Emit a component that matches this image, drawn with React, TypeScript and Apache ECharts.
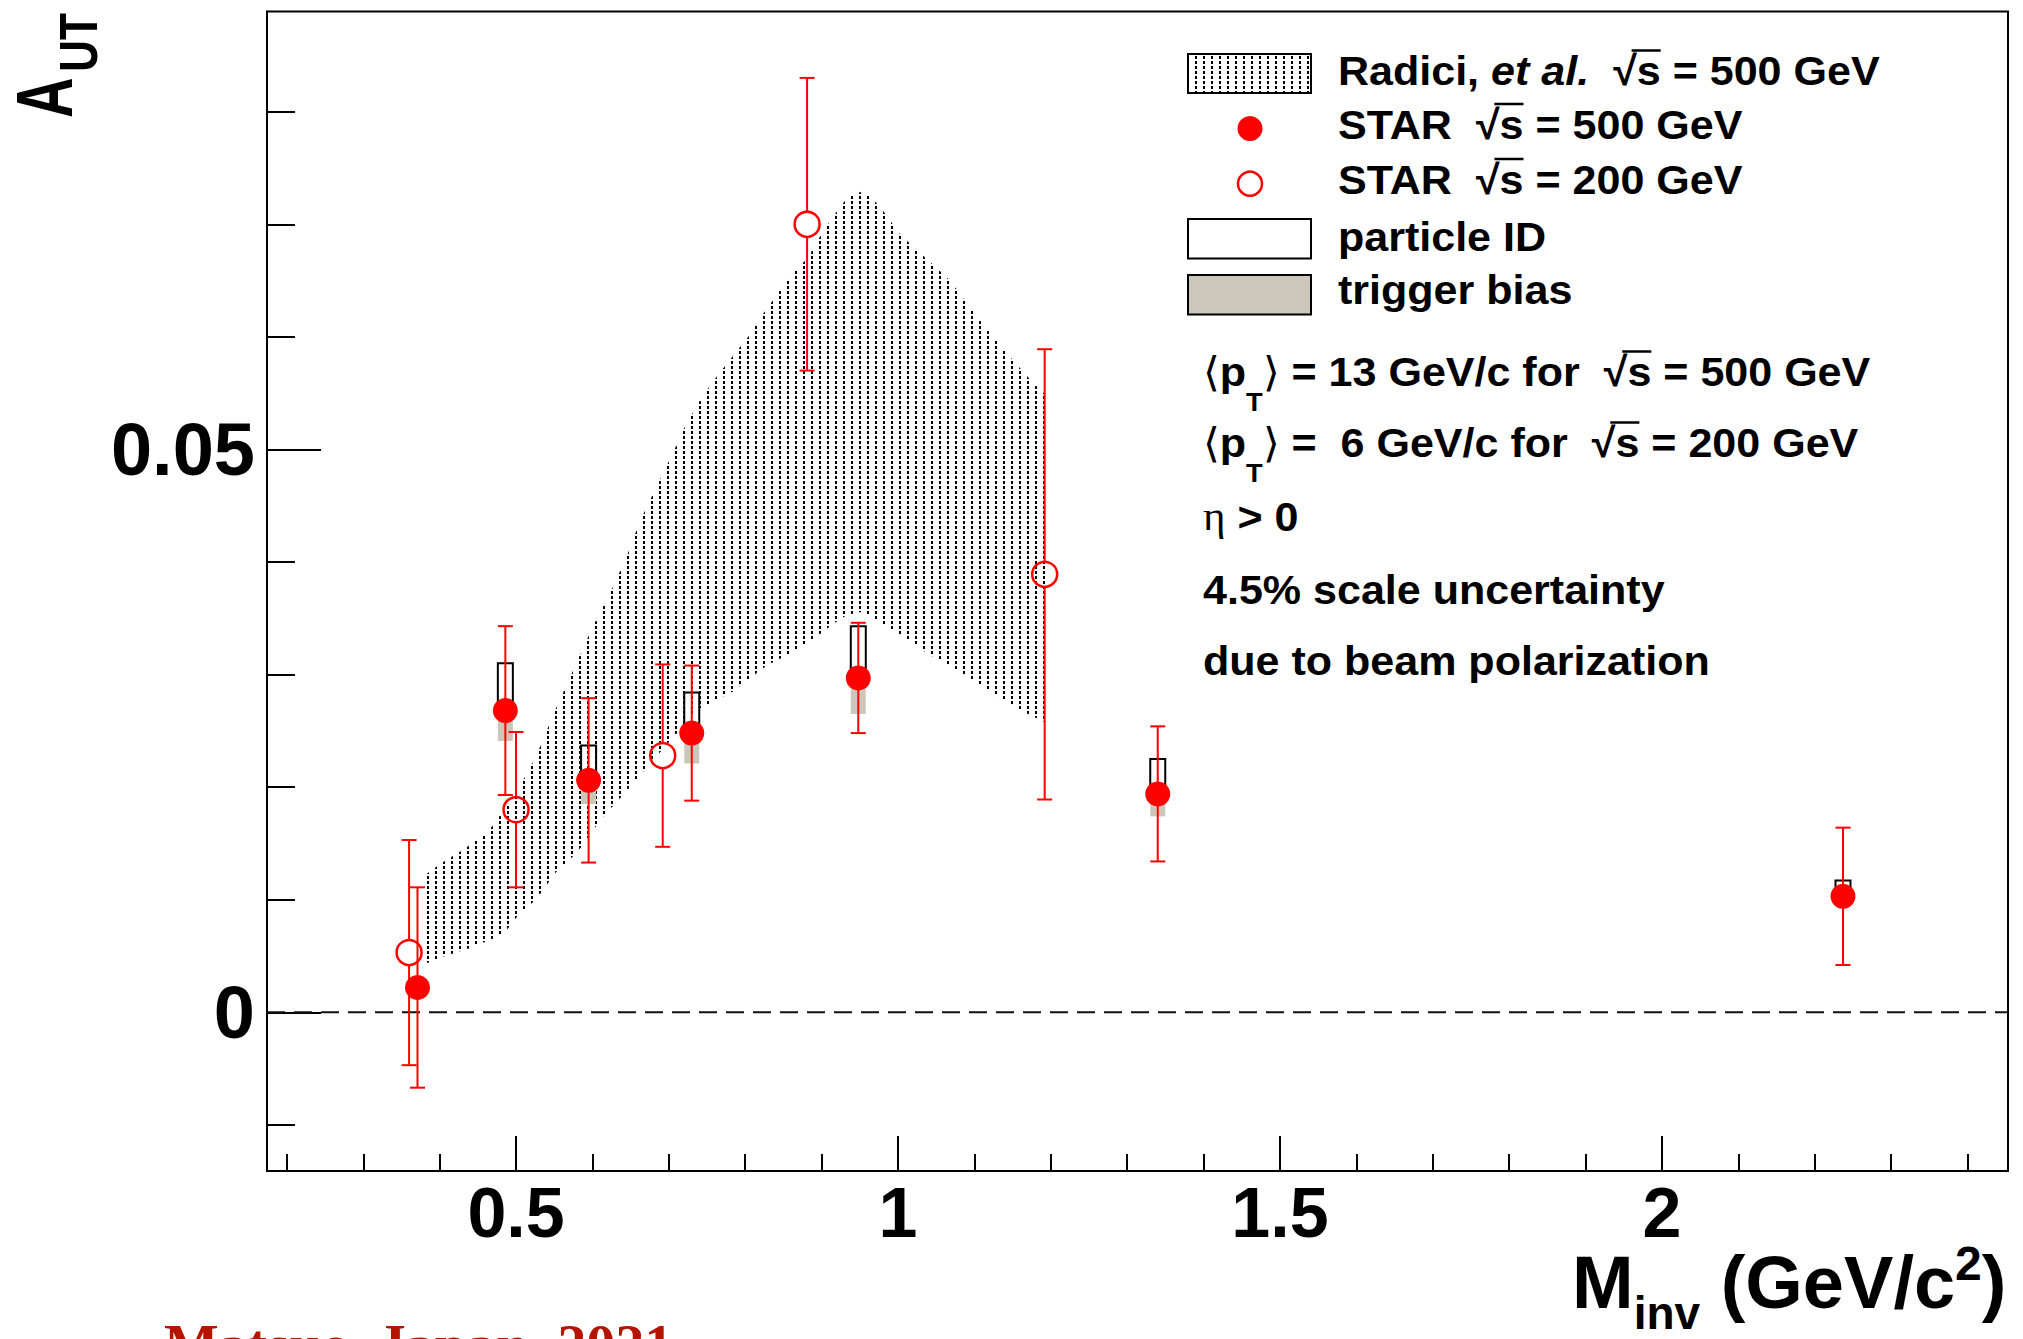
import React, { useEffect, useRef } from 'react';
import * as echarts from 'echarts';

// ---------------- data ----------------
const X_MIN = 0.174;
const X_MAX = 2.453;
const Y_MIN = -0.0141;
const Y_MAX = 0.0889;

const X_MAJOR = [0.5, 1, 1.5, 2];
const X_MINOR = [0.2, 0.3, 0.4, 0.6, 0.7, 0.8, 0.9, 1.1, 1.2, 1.3, 1.4, 1.6, 1.7, 1.8, 1.9, 2.1, 2.2, 2.3, 2.4];
const Y_MAJOR = [0, 0.05];
const Y_MINOR = [-0.01, 0.01, 0.02, 0.03, 0.04, 0.06, 0.07, 0.08];

// Radici et al. band (upper and lower edges)
const BAND_UP_X = [0.377, 0.401, 0.434, 0.464, 0.499, 0.526, 0.553, 0.575, 0.584, 0.603, 0.623, 0.645, 0.662, 0.684, 0.704, 0.723, 0.743, 0.763, 0.784, 0.804, 0.824, 0.843, 0.863, 0.883, 0.894, 0.913, 0.933, 0.955, 0.976, 1.003, 1.025, 1.046, 1.068, 1.09, 1.116, 1.147, 1.177, 1.197];
const BAND_UP_Y = [0.012, 0.0132, 0.0146, 0.0161, 0.0193, 0.0227, 0.0271, 0.0304, 0.0318, 0.0346, 0.0372, 0.0405, 0.0436, 0.0467, 0.0495, 0.0523, 0.0546, 0.0565, 0.0583, 0.06, 0.0621, 0.0639, 0.0657, 0.0671, 0.0685, 0.0705, 0.0723, 0.073, 0.0716, 0.0691, 0.0677, 0.0664, 0.065, 0.063, 0.0607, 0.0582, 0.0559, 0.0546];
const BAND_LO_X = [0.377, 0.407, 0.44, 0.483, 0.505, 0.526, 0.553, 0.58, 0.613, 0.64, 0.667, 0.7, 0.741, 0.784, 0.828, 0.863, 0.894, 0.915, 0.933, 0.955, 0.976, 1.003, 1.038, 1.072, 1.112, 1.155, 1.197];
const BAND_LO_Y = [0.0042, 0.005, 0.0057, 0.0069, 0.0088, 0.01, 0.0125, 0.0142, 0.0173, 0.0193, 0.0214, 0.024, 0.027, 0.0285, 0.0308, 0.032, 0.0334, 0.0345, 0.0353, 0.0356, 0.0347, 0.0335, 0.0319, 0.0306, 0.0288, 0.027, 0.0256];

// STAR sqrt(s) = 500 GeV (filled)
const S500_X = [0.371, 0.486, 0.595, 0.73, 0.948, 1.34, 2.237];
const S500_Y = [0.0022, 0.0268, 0.0206, 0.0248, 0.0297, 0.0194, 0.0103];
const S500_ERR = [0.0089, 0.0075, 0.0073, 0.006, 0.0049, 0.006, 0.0061];
const S500_PID = [0, 0.0042, 0.0031, 0.0036, 0.0046, 0.0031, 0.0014];
const S500_TRIG = [0, 0.0027, 0.0021, 0.0027, 0.0032, 0.002, 0.0008];

// STAR sqrt(s) = 200 GeV (open)
const S200_X = [0.36, 0.5, 0.692, 0.881, 1.192];
const S200_Y = [0.0053, 0.018, 0.0228, 0.07, 0.0389];
const S200_ERR = [0.01, 0.0069, 0.0081, 0.013, 0.02];

// ---------------- style ----------------
const W = 2023;
const H = 1339;
const SANS = '"Liberation Sans", Arial, Helvetica, sans-serif';
const SERIF = '"Liberation Serif", "Times New Roman", serif';
const RED = '#ff0000';
const GRAY = '#cdc7bb';
const CAP = 7.5;
const BOX_HALF = 7.5;
const R_OPEN = 12.5;

let measureCtx: CanvasRenderingContext2D | null = null;
function measure(t: string, size: number, weight: string, fstyle: string, fam: string) {
  if (!measureCtx) measureCtx = document.createElement('canvas').getContext('2d');
  const c = measureCtx!;
  c.font = `${fstyle} ${weight} ${size}px ${fam}`;
  return c.measureText(t).width;
}

type Seg = { t: string; size?: number; weight?: string; style?: string; family?: string; dy?: number; over?: boolean };

function textStyle(t: string, size: number, weight: string, fstyle: string, fam: string, fill = '#000') {
  return {
    text: t,
    fontSize: size,
    fontWeight: weight,
    fontStyle: fstyle,
    fontFamily: fam,
    fill,
    align: 'left',
    verticalAlign: 'middle',
    textAlign: 'left',
    textVerticalAlign: 'middle',
  };
}

function textRow(x0: number, yc: number, segs: Seg[], base: number, sx = 1) {
  const children: any[] = [];
  let x = 0;
  for (const s of segs) {
    const size = s.size ?? base;
    const weight = s.weight ?? 'bold';
    const fstyle = s.style ?? 'normal';
    const fam = s.family ?? SANS;
    const w = measure(s.t, size, weight, fstyle, fam);
    children.push({ type: 'text', x, y: s.dy ?? 0, silent: true, style: textStyle(s.t, size, weight, fstyle, fam) });
    if (s.over) {
      children.push({
        type: 'line',
        silent: true,
        shape: { x1: x - 0.12 * size, y1: -0.5 * size, x2: x + w, y2: -0.5 * size },
        style: { stroke: '#000', lineWidth: 2.5 },
      });
    }
    x += w;
  }
  return { type: 'group', x: x0, y: yc, scaleX: sx, children };
}

function makePattern() {
  const pc = document.createElement('canvas');
  pc.width = 8;
  pc.height = 5;
  const g = pc.getContext('2d')!;
  g.fillStyle = '#000';
  g.fillRect(3, 1, 2, 3);
  return { image: pc.toDataURL(), repeat: 'repeat', imageWidth: 8, imageHeight: 5 } as any;
}

export default function App() {
  const ref = useRef<HTMLDivElement>(null);

  useEffect(() => {
    const el = ref.current!;
    const chart = echarts.init(el, null, { renderer: 'svg', width: W, height: H });
    const pattern = makePattern();

    const LEG = 41;
    const LSX = 1.05;
    const legendX = 1338;
    const noteX = 1203;
    const sqrtSegs = (rest: string): Seg[] => [{ t: '√' }, { t: 's', over: true }, { t: rest }];

    const graphics: any[] = [
      // legend swatches
      { type: 'rect', silent: true, shape: { x: 1188, y: 54, width: 123, height: 39 }, style: { fill: pattern, stroke: '#000', lineWidth: 2 } },
      { type: 'circle', silent: true, shape: { cx: 1250, cy: 128.6, r: 12.5 }, style: { fill: RED } },
      { type: 'circle', silent: true, shape: { cx: 1250, cy: 183.7, r: 12 }, style: { fill: 'none', stroke: RED, lineWidth: 2.5 } },
      { type: 'rect', silent: true, shape: { x: 1188, y: 219, width: 123, height: 39.5 }, style: { fill: '#fff', stroke: '#000', lineWidth: 2 } },
      { type: 'rect', silent: true, shape: { x: 1188, y: 275, width: 123, height: 39.5 }, style: { fill: GRAY, stroke: '#000', lineWidth: 2 } },
      // legend texts
      textRow(legendX, 71, [{ t: 'Radici, ' }, { t: 'et al.', style: 'italic' }, { t: '  ' }, ...sqrtSegs(' = 500 GeV')], LEG, LSX),
      textRow(legendX, 124.5, [{ t: 'STAR  ' }, ...sqrtSegs(' = 500 GeV')], LEG, LSX),
      textRow(legendX, 179.5, [{ t: 'STAR  ' }, ...sqrtSegs(' = 200 GeV')], LEG, LSX),
      textRow(legendX, 236.5, [{ t: 'particle ID' }], LEG, LSX),
      textRow(legendX, 289.5, [{ t: 'trigger bias' }], LEG, LSX),
      // notes
      textRow(noteX, 372, [{ t: '⟨', weight: 'normal' }, { t: 'p' }, { t: 'T', size: 26, dy: 30 }, { t: '⟩', weight: 'normal' }, { t: ' = 13 GeV/c for  ' }, ...sqrtSegs(' = 500 GeV')], LEG, LSX),
      textRow(noteX, 443, [{ t: '⟨', weight: 'normal' }, { t: 'p' }, { t: 'T', size: 26, dy: 30 }, { t: '⟩', weight: 'normal' }, { t: ' =  6 GeV/c for  ' }, ...sqrtSegs(' = 200 GeV')], LEG, LSX),
      textRow(noteX, 516.5, [{ t: 'η', weight: 'normal', family: SERIF }, { t: ' > 0' }], LEG, LSX),
      textRow(noteX, 590, [{ t: '4.5% scale uncertainty' }], LEG, LSX),
      textRow(noteX, 661, [{ t: 'due to beam polarization' }], LEG, LSX),
      // x-axis title
      textRow(1572, 1282, [{ t: 'M' }, { t: 'inv', size: 46, dy: 31 }, { t: ' (GeV/c' }, { t: '2', size: 48, dy: -18.5 }, { t: ')' }], 74, 1),
      // y-axis title
      {
        type: 'group',
        x: 44.5,
        y: 118,
        rotation: Math.PI / 2,
        children: [
          { type: 'text', x: 0, y: 0, scaleX: 0.7, silent: true, style: textStyle('A', 80, 'bold', 'normal', SANS) },
          { type: 'text', x: 46, y: 33, scaleX: 0.82, silent: true, style: textStyle('UT', 54, 'bold', 'normal', SANS) },
        ],
      },
      // footer (cut off at the bottom edge, as in the reference)
      { type: 'text', x: 164, y: 1344, silent: true, style: textStyle('Matsue, Japan, 2021', 58, 'bold', 'normal', SERIF, '#b41400') },
    ];

    const axisBase = {
      type: 'value',
      splitLine: { show: false },
      minorTick: { show: false },
    };

    const option: any = {
      animation: false,
      backgroundColor: '#fff',
      grid: {
        left: 267,
        right: W - 2008,
        top: 11.5,
        bottom: H - 1171,
        show: true,
        borderColor: '#000',
        borderWidth: 2,
        backgroundColor: 'transparent',
        containLabel: false,
        outerBoundsMode: 'none',
      },
      xAxis: [
        {
          ...axisBase,
          min: X_MIN,
          max: X_MAX,
          position: 'bottom',
          axisLine: { show: true, onZero: false, lineStyle: { color: '#000', width: 2 } },
          axisTick: { show: true, inside: true, length: 35, customValues: X_MAJOR, lineStyle: { color: '#000', width: 2 } },
          axisLabel: {
            show: true,
            customValues: X_MAJOR,
            formatter: (v: number) => String(v),
            margin: 7,
            color: '#000',
            fontSize: 70,
            fontWeight: 'bold',
            fontFamily: SANS,
          },
        },
        {
          ...axisBase,
          min: X_MIN,
          max: X_MAX,
          position: 'bottom',
          axisLine: { show: false, onZero: false },
          axisTick: { show: true, inside: true, length: 17, customValues: X_MINOR, lineStyle: { color: '#000', width: 2 } },
          axisLabel: { show: false },
        },
      ],
      yAxis: [
        {
          ...axisBase,
          min: Y_MIN,
          max: Y_MAX,
          position: 'left',
          axisLine: { show: true, onZero: false, lineStyle: { color: '#000', width: 2 } },
          axisTick: { show: true, inside: true, length: 54, customValues: Y_MAJOR, lineStyle: { color: '#000', width: 2 } },
          axisLabel: {
            show: true,
            customValues: Y_MAJOR,
            formatter: (v: number) => String(v),
            margin: 12,
            color: '#000',
            fontSize: 74,
            fontWeight: 'bold',
            fontFamily: SANS,
          },
        },
        {
          ...axisBase,
          min: Y_MIN,
          max: Y_MAX,
          position: 'left',
          axisLine: { show: false, onZero: false },
          axisTick: { show: true, inside: true, length: 28, customValues: Y_MINOR, lineStyle: { color: '#000', width: 2 } },
          axisLabel: { show: false },
        },
      ],
      graphic: graphics,
      series: [
        {
          name: 'zero',
          type: 'line',
          xAxisIndex: 0,
          yAxisIndex: 0,
          data: [[X_MIN, 0], [X_MAX, 0]],
          showSymbol: false,
          silent: true,
          z: 1,
          lineStyle: { color: '#111', width: 2, type: [18, 9] },
        },
        {
          name: 'Radici et al.',
          type: 'custom',
          xAxisIndex: 0,
          yAxisIndex: 0,
          silent: true,
          z: 2,
          encode: { x: 0, y: 1 },
          data: [[BAND_UP_X[0], BAND_UP_Y[0]]],
          renderItem: (_p: any, api: any) => {
            const pts: number[][] = [];
            for (let i = 0; i < BAND_UP_X.length; i++) pts.push(api.coord([BAND_UP_X[i], BAND_UP_Y[i]]));
            for (let i = BAND_LO_X.length - 1; i >= 0; i--) pts.push(api.coord([BAND_LO_X[i], BAND_LO_Y[i]]));
            return { type: 'polygon', shape: { points: pts }, style: { fill: pattern, stroke: 'none' } };
          },
        },
        {
          name: 'systematics',
          type: 'custom',
          xAxisIndex: 0,
          yAxisIndex: 0,
          silent: true,
          z: 3,
          encode: { x: 0, y: 1 },
          data: S500_X.map((x, i) => [x, S500_Y[i], S500_PID[i], S500_TRIG[i]]),
          renderItem: (_p: any, api: any) => {
            const x = api.value(0);
            const y = api.value(1);
            const pid = api.value(2);
            const trig = api.value(3);
            const c = api.coord([x, y]);
            const top = api.coord([x, y + pid]);
            const bot = api.coord([x, y - trig]);
            const ch: any[] = [];
            if (trig > 0) ch.push({ type: 'rect', shape: { x: c[0] - BOX_HALF, y: c[1], width: 2 * BOX_HALF, height: bot[1] - c[1] }, style: { fill: GRAY } });
            if (pid > 0) ch.push({ type: 'rect', shape: { x: c[0] - BOX_HALF, y: top[1], width: 2 * BOX_HALF, height: c[1] - top[1] }, style: { fill: 'none', stroke: '#000', lineWidth: 2 } });
            return { type: 'group', children: ch };
          },
        },
        ...[
          { name: 'err500', xs: S500_X, ys: S500_Y, es: S500_ERR, open: false },
          { name: 'err200', xs: S200_X, ys: S200_Y, es: S200_ERR, open: true },
        ].map((d) => ({
          name: d.name,
          type: 'custom',
          xAxisIndex: 0,
          yAxisIndex: 0,
          silent: true,
          z: 4,
          encode: { x: 0, y: 1 },
          data: d.xs.map((x, i) => [x, d.ys[i], d.es[i]]),
          renderItem: (_p: any, api: any) => {
            const x = api.value(0);
            const y = api.value(1);
            const e = api.value(2);
            const c = api.coord([x, y]);
            const t = api.coord([x, y + e]);
            const b = api.coord([x, y - e]);
            const gap = d.open ? R_OPEN : 0;
            const ls = { stroke: RED, lineWidth: 2 };
            return {
              type: 'group',
              children: [
                { type: 'line', shape: { x1: c[0], y1: t[1], x2: c[0], y2: c[1] - gap }, style: ls },
                { type: 'line', shape: { x1: c[0], y1: c[1] + gap, x2: c[0], y2: b[1] }, style: ls },
                { type: 'line', shape: { x1: c[0] - CAP, y1: t[1], x2: c[0] + CAP, y2: t[1] }, style: ls },
                { type: 'line', shape: { x1: c[0] - CAP, y1: b[1], x2: c[0] + CAP, y2: b[1] }, style: ls },
              ],
            };
          },
        })),
        {
          name: 'STAR 500 GeV',
          type: 'scatter',
          xAxisIndex: 0,
          yAxisIndex: 0,
          silent: true,
          z: 5,
          symbol: 'circle',
          symbolSize: 25,
          itemStyle: { color: RED, opacity: 1 },
          data: S500_X.map((x, i) => [x, S500_Y[i]]),
        },
        {
          name: 'STAR 200 GeV',
          type: 'scatter',
          xAxisIndex: 0,
          yAxisIndex: 0,
          silent: true,
          z: 5,
          symbol: 'circle',
          symbolSize: 25,
          itemStyle: { color: 'rgba(255,255,255,0)', borderColor: RED, borderWidth: 2.5, opacity: 1 },
          data: S200_X.map((x, i) => [x, S200_Y[i]]),
        },
      ],
    };

    chart.setOption(option);
    return () => chart.dispose();
  }, []);

  return <div ref={ref} style={{ position: 'fixed', left: 0, top: 0, width: W, height: H, background: '#fff' }} />;
}
